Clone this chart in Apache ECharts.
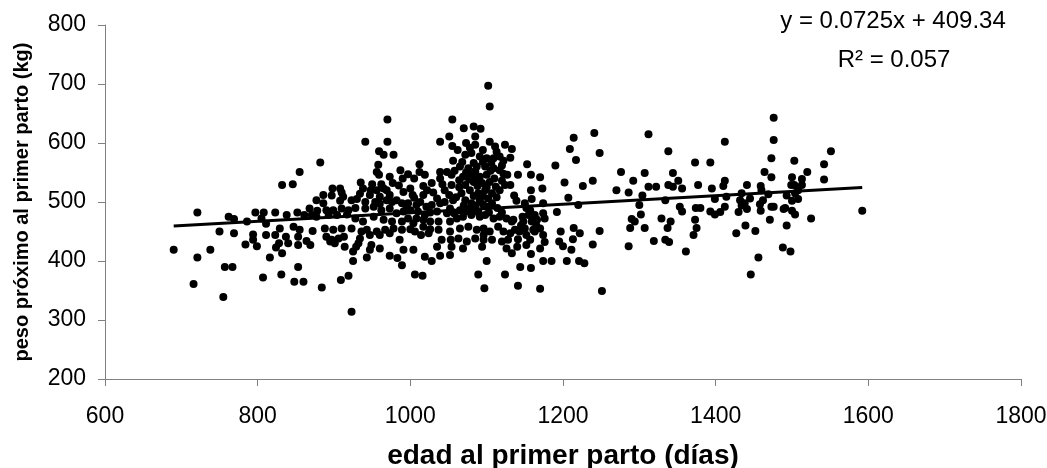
<!DOCTYPE html>
<html>
<head>
<meta charset="utf-8">
<script src="https://cdn.jsdelivr.net/npm/echarts@6/dist/echarts.min.js"></script>
<style>
  html, body { margin: 0; padding: 0; background: #ffffff; overflow: hidden; }
  #chart { width: 1047px; height: 468px; }
</style>
</head>
<body>
<div id="chart"></div>
<script>
// Edad al primer parto (días) y peso próximo al primer parto (kg), una vaca por posición
const edadDias = [
  // 690-835
  832,721,762,769,797,808,823,786,805,811,750,769,794,794,811,823,829,690,721,738,784,799,816,824,828,832,757,767,807,831,716,755,
  // 835-980
  970,941,970,959,965,978,882,958,855,956,959,973,846,935,898,908,910,938,948,956,965,969,886,897,912,934,947,960,973,877,886,908,923,941,954,969,976,
  868,878,890,899,910,919,941,952,962,973,838,852,861,871,877,893,904,917,928,938,952,965,976,847,855,872,888,899,910,923,936,943,956,967,
  837,853,864,890,897,906,913,934,947,960,973,840,853,869,895,901,914,932,949,960,925,947,929,943,973,925,853,848,860,909,919,884,923,
  962,950,930,928,960,
  // 980-1060
  1055,1051,1039,1055,1056,1012,987,997,1012,1019,1039,1048,977,1017,1028,1039,1042,1054,1054,991,1000,1005,1017,1030,1035,1045,1051,1056,
  982,989,997,1008,1013,1021,1028,1039,1045,982,991,1000,1010,1019,1026,1035,1048,1054,989,997,1004,1008,1017,1026,1037,1052,
  978,989,1000,1006,1017,1026,1037,1052,986,991,1004,1014,1024,1041,1053,1054,1052,1035,983,989,1019,1028,1039,1006,1016,
  990,1005,985,1022,1003,995,
  // 1060-1135
  1102,1104,1070,1083,1092,1073,1085,1085,1104,1111,1124,1133,1072,1080,1091,1100,1109,1117,1122,1131,1065,1076,1087,1098,1109,1117,1127,
  1069,1080,1091,1100,1072,1083,1094,1104,1117,1124,1131,1067,1078,1089,1098,1107,1072,1080,1091,1102,1052,1065,1078,1089,1100,1107,
  1061,1069,1080,1091,1098,1109,1117,1126,1133,1065,1076,1087,1096,1104,1115,1122,1131,1063,1074,1085,1096,1107,1120,1128,
  1069,1094,1096,1133,1126,1100,1089,1124,1097,
  1062,1078,1095,1113,1068,1083,1095,1106,1120,1058,1073,1085,1105,1122,1064,1077,1088,1110,1120,1064,1088,1100,1112,
  1060,1083,1095,1113,1070,1085,1095,1114,1058,1073,1085,1103,1120,
  // 1135-1230
  1214,1209,1217,1153,1190,1141,1158,1170,1202,1226,1158,1173,1136,1139,1150,1159,1174,1207,1220,1157,1152,1192,1135,1147,1155,1163,1174,1176,
  1137,1148,1159,1166,1170,1161,1143,1152,1163,1174,1197,1214,1222,1141,1157,1176,1213,1195,1200,1211,1140,1152,1170,1158,1174,1185,1205,1221,1228,
  1144,1158,1141,1170,1145,1165,1150,
  // 1230-1380
  1241,1312,1248,1338,1373,1276,1307,1344,1351,1239,1292,1312,1322,1338,1344,1356,1377,1270,1286,1304,1300,1334,1353,1356,1374,1302,1290,1294,
  1288,1307,1329,1341,1337,1373,1375,1248,1239,1286,1319,1334,1339,1371,1361,1251,
  // 1380-1600
  1476,1412,1476,1551,1393,1473,1503,1542,1464,1473,1520,1500,1513,1542,1412,1410,1441,1459,1499,1503,1513,1395,1460,1508,1434,1469,1493,1504,
  1399,1414,1432,1445,1462,1508,1500,1380,1412,1434,1438,1458,1473,1491,1393,1399,1406,1430,1441,1459,1476,1489,1500,1504,1592,1471,1525,
  1439,1452,1493,1427,1488,1498,1456,1446
];

const pesoKg = [
  // 690-835
  529,482,475,471,482,482,482,467,472,463,450,447,445,436,444,444,455,419,406,419,428,425,406,423,430,413,390,390,372,377,361,339,
  // 835-980
  640,602,602,586,580,580,567,563,551,551,546,543,530,533,523,523,516,523,520,520,523,520,512,511,509,514,512,509,512,503,498,502,503,500,500,503,500,
  489,485,486,486,489,486,489,492,486,489,478,482,478,478,475,478,478,479,472,467,475,470,467,458,453,451,455,453,455,455,450,453,450,453,
  441,441,434,441,436,438,441,438,444,444,447,430,427,427,433,430,424,430,427,421,416,419,424,406,409,400,390,365,365,368,375,355,314,
  530,530,505,490,497,
  // 980-1060
  640,611,602,595,570,564,554,547,551,546,551,551,532,527,532,540,530,546,529,517,523,507,512,516,506,520,512,503,
  503,498,498,495,500,492,495,498,500,481,484,486,484,478,482,484,481,484,467,472,464,472,470,467,467,467,
  455,453,454,450,458,454,453,450,436,419,419,444,447,436,436,424,410,424,405,393,407,400,409,377,375,
  540,540,528,520,512,490,
  // 1060-1135
  697,662,625,628,624,600,611,597,602,594,597,590,580,583,577,574,574,577,570,575,560,557,560,560,557,554,546,
  543,546,543,546,529,534,532,534,520,529,529,515,520,515,520,515,503,498,503,506,489,486,489,484,492,498,
  472,475,478,475,478,472,475,472,467,455,458,453,455,450,458,450,447,438,433,438,436,436,433,436,
  421,424,444,413,421,400,377,377,354,
  588,592,588,585,568,566,568,566,562,553,550,552,553,548,537,538,540,540,536,525,527,525,526,
  508,510,510,508,494,494,496,490,480,484,484,482,482,
  // 1135-1230
  609,590,571,564,562,546,546,542,533,527,520,523,511,502,498,505,498,507,495,486,490,483,470,475,478,478,481,472,
  453,467,467,470,455,453,450,444,450,444,450,456,447,437,436,432,437,433,425,419,424,427,421,412,400,400,400,400,396,
  390,388,358,353,460,460,455,
  // 1230-1380
  617,615,583,586,567,551,549,549,536,536,536,526,526,529,526,523,529,520,516,511,495,503,492,484,490,479,471,467,
  456,456,472,467,456,470,456,451,428,425,434,436,432,444,416,349,
  // 1380-1600
  643,602,605,586,567,574,570,564,551,542,551,542,539,538,536,527,529,527,529,529,529,523,520,520,515,513,511,515,
  505,509,503,506,503,505,502,490,492,494,498,496,492,490,484,479,483,483,488,485,492,488,485,479,485,470,472,
  460,451,460,447,423,416,406,377
];

// Recta de regresión y su ajuste
const pendiente = 0.0725;
const intercepto = 409.34;
const r2 = 0.057;

const ejeX = { min: 600, max: 1800, paso: 200, nombre: 'edad al primer parto (días)' };
const ejeY = { min: 200, max: 800, paso: 100, nombre: 'peso próximo al primer parto (kg)' };

const puntos = edadDias.map((x, i) => [x, pesoKg[i]]);
const xIni = Math.min(...edadDias);
const xFin = Math.max(...edadDias);
const recta = [[xIni, pendiente * xIni + intercepto], [xFin, pendiente * xFin + intercepto]];

const FONT = '"Liberation Sans", Arial, Helvetica, sans-serif';
const GRIS = '#808080';
const sinSeparador = v => String(v);

const chart = echarts.init(document.getElementById('chart'), null, { renderer: 'canvas' });

chart.setOption({
  animation: false,
  backgroundColor: '#ffffff',
  textStyle: { fontFamily: FONT, color: '#000000' },
  grid: { left: 105, right: 26, top: 25, bottom: 89, containLabel: false, outerBoundsMode: 'none' },
  xAxis: {
    type: 'value',
    min: ejeX.min, max: ejeX.max, interval: ejeX.paso,
    name: ejeX.nombre,
    nameLocation: 'middle',
    nameGap: 63,
    nameTextStyle: { fontFamily: FONT, fontSize: 28, fontWeight: 'bold', color: '#000000' },
    axisLine: { show: true, onZero: false, lineStyle: { color: GRIS, width: 1 } },
    axisTick: { show: true, inside: false, length: 7, lineStyle: { color: GRIS, width: 1 } },
    axisLabel: { show: true, margin: 26, fontFamily: FONT, fontSize: 23, color: '#000000',
                 formatter: sinSeparador, showMinLabel: true, showMaxLabel: true, hideOverlap: false },
    splitLine: { show: false }
  },
  yAxis: {
    type: 'value',
    min: ejeY.min, max: ejeY.max, interval: ejeY.paso,
    name: ejeY.nombre,
    nameLocation: 'middle',
    nameGap: 73,
    nameRotate: 90,
    nameTextStyle: { fontFamily: FONT, fontSize: 20, fontWeight: 'bold', color: '#000000' },
    axisLine: { show: true, onZero: false, lineStyle: { color: GRIS, width: 1 } },
    axisTick: { show: true, inside: false, length: 7, lineStyle: { color: GRIS, width: 1 } },
    axisLabel: { show: true, margin: 19, fontFamily: FONT, fontSize: 23, color: '#000000',
                 formatter: sinSeparador, showMinLabel: true, showMaxLabel: true, hideOverlap: false },
    splitLine: { show: false }
  },
  graphic: [
    {
      type: 'text', x: 893, y: 21, z: 10,
      style: {
        text: 'y = ' + pendiente + 'x + ' + intercepto,
        fontFamily: FONT, fontSize: 24, fill: '#000000',
        align: 'center', verticalAlign: 'middle',
        textAlign: 'center', textVerticalAlign: 'middle'
      }
    },
    {
      type: 'text', x: 894, y: 60, z: 10,
      style: {
        text: 'R² = ' + r2,
        fontFamily: FONT, fontSize: 24, fill: '#000000',
        align: 'center', verticalAlign: 'middle',
        textAlign: 'center', textVerticalAlign: 'middle'
      }
    }
  ],
  series: [
    {
      type: 'scatter',
      data: puntos,
      symbol: 'circle',
      symbolSize: 8,
      itemStyle: { color: '#000000', opacity: 1 },
      emphasis: { disabled: true },
      z: 2
    },
    {
      type: 'line',
      data: recta,
      symbol: 'none',
      lineStyle: { color: '#000000', width: 3 },
      emphasis: { disabled: true },
      z: 3
    }
  ]
});
</script>
</body>
</html>
